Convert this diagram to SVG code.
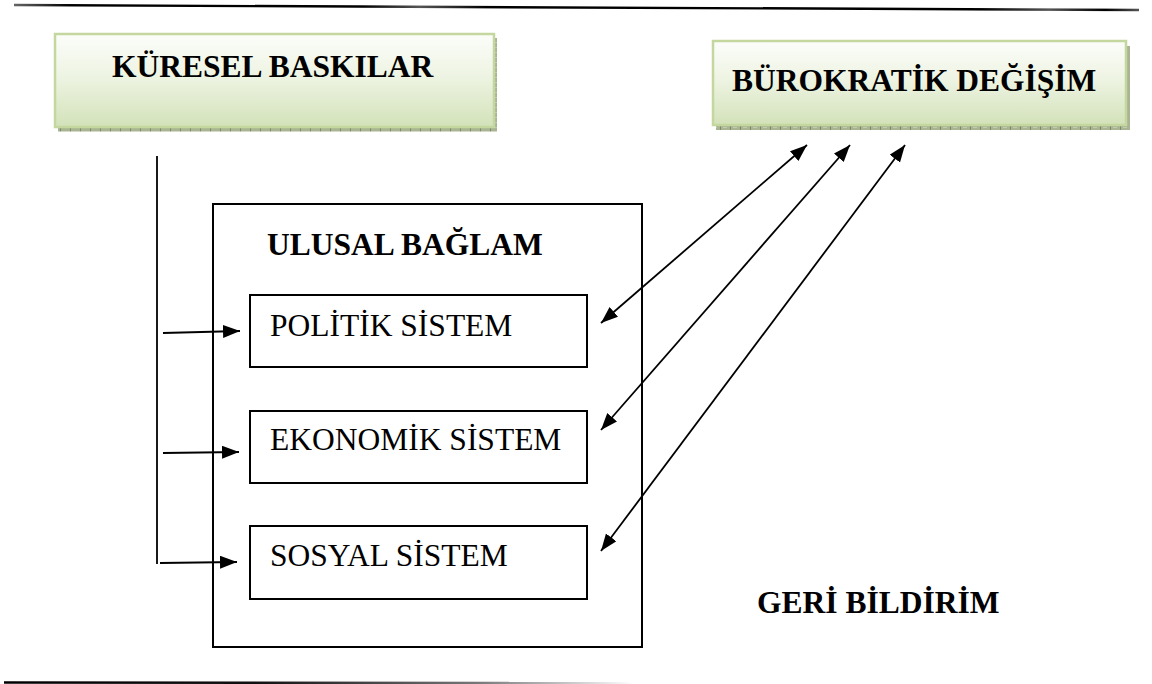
<svg xmlns="http://www.w3.org/2000/svg" width="1152" height="684" viewBox="0 0 1152 684">
<style>
  .lbl { font-family: "Liberation Serif", "Times New Roman", "DejaVu Serif", serif; font-size: 31.5px; fill: #000; }
  .b { font-weight: bold; }
  .box { fill: #fff; stroke: #000; stroke-width: 2; }
  .gbox { fill: url(#green); stroke: #c4d79e; stroke-width: 2.5; }
  .shadow { fill: url(#shadowPat); }
  .conn { stroke: #000; stroke-width: 1.8; fill: none; }
  .arr { marker-end: url(#ah); }
  .dbl { marker-start: url(#ah); marker-end: url(#ah); }
</style>
<defs>
  <linearGradient id="green" x1="0" y1="0" x2="0" y2="1">
    <stop offset="0" stop-color="#fcfdfa"/>
    <stop offset="0.45" stop-color="#eef4e3"/>
    <stop offset="1" stop-color="#d3e2b9"/>
  </linearGradient>
  <pattern id="shadowPat" x="0" y="0" width="10" height="5" patternUnits="userSpaceOnUse">
    <rect width="10" height="5" fill="#a9b592"/>
    <rect x="0" y="0" width="1" height="5" fill="#7f8a6a"/>
    <rect x="3" y="2" width="4" height="1" fill="#c3ccb0"/>
  </pattern>
  <linearGradient id="topLine" x1="14" y1="0" x2="1139" y2="0" gradientUnits="userSpaceOnUse">
    <stop offset="0" stop-color="#666"/>
    <stop offset="0.05" stop-color="#000"/>
    <stop offset="0.31" stop-color="#000"/>
    <stop offset="0.36" stop-color="#555"/>
    <stop offset="0.42" stop-color="#000"/>
    <stop offset="0.86" stop-color="#000"/>
    <stop offset="0.92" stop-color="#555"/>
    <stop offset="0.97" stop-color="#000"/>
    <stop offset="1" stop-color="#555"/>
  </linearGradient>
  <linearGradient id="botLine" x1="4" y1="0" x2="634" y2="0" gradientUnits="userSpaceOnUse">
    <stop offset="0" stop-color="#000"/>
    <stop offset="0.4" stop-color="#111"/>
    <stop offset="0.75" stop-color="#777"/>
    <stop offset="1" stop-color="#fff"/>
  </linearGradient>
  <marker id="ah" markerUnits="userSpaceOnUse" markerWidth="20" markerHeight="14" refX="17" refY="6.5" orient="auto-start-reverse">
    <path d="M0,0 L17,6.5 L0,13 z" fill="#000"/>
  </marker>
</defs>

<g id="rules">
  <line x1="14" y1="5" x2="1139" y2="10" stroke="url(#topLine)" stroke-width="2.4"/>
  <line x1="4" y1="682.5" x2="634" y2="683" stroke="url(#botLine)" stroke-width="2.4"/>
</g>

<g id="kuresel-baskilar">
  <rect class="shadow" x="58" y="127" width="439" height="4.5"/>
  <rect class="shadow" x="493" y="38" width="4" height="93"/>
  <rect class="gbox" x="55" y="34" width="439" height="93"/>
  <text class="lbl b" x="112" y="77">KÜRESEL BASKILAR</text>
</g>

<g id="burokratik-degisim">
  <rect class="shadow" x="716" y="125" width="414" height="5"/>
  <rect class="shadow" x="1125" y="46" width="5" height="84"/>
  <rect class="gbox" x="713" y="41" width="413" height="84"/>
  <text class="lbl b" x="732" y="91">BÜROKRATİK DEĞİŞİM</text>
</g>

<g id="ulusal-baglam">
  <rect class="box" x="213" y="204" width="429" height="443"/>
  <text class="lbl b" x="267" y="255">ULUSAL BAĞLAM</text>
</g>

<g id="politik-sistem">
  <rect class="box" x="250" y="295" width="337" height="72"/>
  <text class="lbl" x="270" y="336">POLİTİK SİSTEM</text>
</g>

<g id="ekonomik-sistem">
  <rect class="box" x="250" y="411" width="337" height="72"/>
  <text class="lbl" x="270" y="450">EKONOMİK SİSTEM</text>
</g>

<g id="sosyal-sistem">
  <rect class="box" x="250" y="526" width="337" height="73"/>
  <text class="lbl" x="270" y="566">SOSYAL SİSTEM</text>
</g>

<g id="geri-bildirim">
  <text class="lbl b" x="757" y="613">GERİ BİLDİRİM</text>
</g>

<g id="connectors">
  <line class="conn" x1="157" y1="156" x2="157" y2="564"/>
  <line class="conn arr" x1="163" y1="333" x2="240" y2="331"/>
  <line class="conn arr" x1="163" y1="453" x2="239" y2="452"/>
  <line class="conn arr" x1="160" y1="563" x2="237" y2="562"/>
  <line class="conn dbl" x1="601" y1="323" x2="807" y2="145"/>
  <line class="conn dbl" x1="601" y1="430" x2="850" y2="145"/>
  <line class="conn dbl" x1="601" y1="551" x2="905" y2="145"/>
</g>
</svg>
